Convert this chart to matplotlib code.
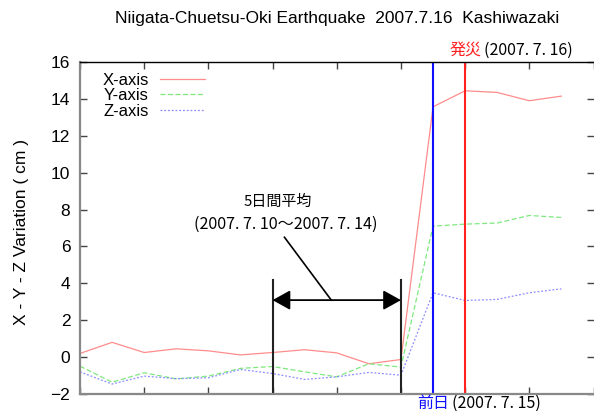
import matplotlib
matplotlib.use("Agg")
import matplotlib.pyplot as plt

plt.rcParams['font.family'] = ['Liberation Sans', 'Noto Sans CJK JP', 'DejaVu Sans']

# days from 2007.7.4 (index 0) to 2007.7.19 (index 15)
days = list(range(16))
x_axis = [0.2, 0.8, 0.25, 0.45, 0.34, 0.12, 0.25, 0.4, 0.23, -0.36, -0.13,
          13.57, 14.44, 14.35, 13.9, 14.15]
y_axis = [-0.49, -1.36, -0.85, -1.18, -1.03, -0.61, -0.51, -0.8, -1.07, -0.36, -0.54,
          7.1, 7.21, 7.27, 7.68, 7.57]
z_axis = [-0.8, -1.46, -1.03, -1.17, -1.12, -0.67, -0.89, -1.21, -1.07, -0.83, -0.98,
          3.49, 3.07, 3.13, 3.49, 3.7]

avg_start, avg_end = 6, 10      # 2007.7.10 - 2007.7.14
day_before, quake_day = 11, 12  # 2007.7.15, 2007.7.16

JP = ['Noto Sans CJK JP', 'DejaVu Sans']

fig = plt.figure(figsize=(5.94, 4.12), dpi=100)
ax = fig.add_axes([80 / 594, 18 / 412, 513.5 / 594, 332 / 412])

ax.plot(days, x_axis, color='#ff8c8c', lw=0.9, label='X-axis')
ax.plot(days, y_axis, color='#7ee87e', lw=0.9, ls=(0, (4, 2)), label='Y-axis')
ax.plot(days, z_axis, color='#8c8cff', lw=0.9, ls=(0, (1.5, 1.5)), label='Z-axis')

# event lines
ax.axvline(day_before, color='#1010ff', lw=1.5)
ax.axvline(quake_day, color='#ff2020', lw=1.5)

# 5-day average bracket
ax.plot([avg_start, avg_start], [-2, 4.17], color='#222222', lw=1.5)
ax.plot([avg_end, avg_end], [-2, 4.17], color='#222222', lw=1.5)
ax.annotate('', xy=(avg_start, 3.09), xytext=(avg_end, 3.09),
            arrowprops=dict(arrowstyle='<|-|>,head_length=1.08,head_width=0.6',
                            color='black', lw=1.3, shrinkA=0, shrinkB=0))
ax.plot([6.37, 7.83], [6.5, 3.09], color='black', lw=1.2)
ax.text(6.15, 8.4, '5日間平均', family=JP, fontsize=10.8, ha='center', va='center')
ax.text(6.4, 7.2, '(2007. 7. 10～2007. 7. 14)', family=JP, fontsize=11.6,
        ha='center', va='center')

# event labels
t1 = ax.text(quake_day, 16.65, '発災', family=JP, fontsize=11.5, color='#ff2020',
             ha='center', va='center', clip_on=False)
ax.annotate('(2007. 7. 16)', xy=(1, 0.5), xycoords=t1, family=JP, fontsize=11.5,
            ha='left', va='center', xytext=(2, 0), textcoords='offset points')
t2 = ax.text(day_before, -2.49, '前日', family=JP, fontsize=11.5, color='#1010ff',
             ha='center', va='center', clip_on=False)
ax.annotate('(2007. 7. 15)', xy=(1, 0.5), xycoords=t2, family=JP, fontsize=11.5,
            ha='left', va='center', xytext=(2, 0), textcoords='offset points')

ax.set_xlim(0, 16)
ax.set_ylim(-2, 16)
ax.set_xticks(range(0, 17, 2))
ax.set_xticklabels([])
ax.set_yticks(range(-2, 17, 2))
ax.tick_params(axis='both', direction='in', length=5, width=1, color='#444444',
               labelsize=12.5, pad=7, top=True, right=True)

for side in ['left', 'bottom']:
    ax.spines[side].set_color('#888888')
    ax.spines[side].set_linewidth(1.6)
ax.spines['top'].set_color('black')
ax.spines['top'].set_linewidth(1.0)
ax.spines['right'].set_visible(False)

ax.set_ylabel('X - Y - Z Variation ( cm )', fontsize=12.5)
ax.yaxis.set_label_coords(-0.099, 0.488)

ax.legend(loc='upper left', bbox_to_anchor=(0.0225, 1.0), frameon=False,
          markerfirst=False, handlelength=2.75, labelspacing=0.03,
          fontsize=12, handletextpad=0.65, borderaxespad=0.25)

fig.text(337 / 594, 1 - 18 / 412, 'Niigata-Chuetsu-Oki Earthquake  2007.7.16  Kashiwazaki',
         ha='center', va='center', fontsize=12.5)

fig.savefig('out.png', dpi=100)
